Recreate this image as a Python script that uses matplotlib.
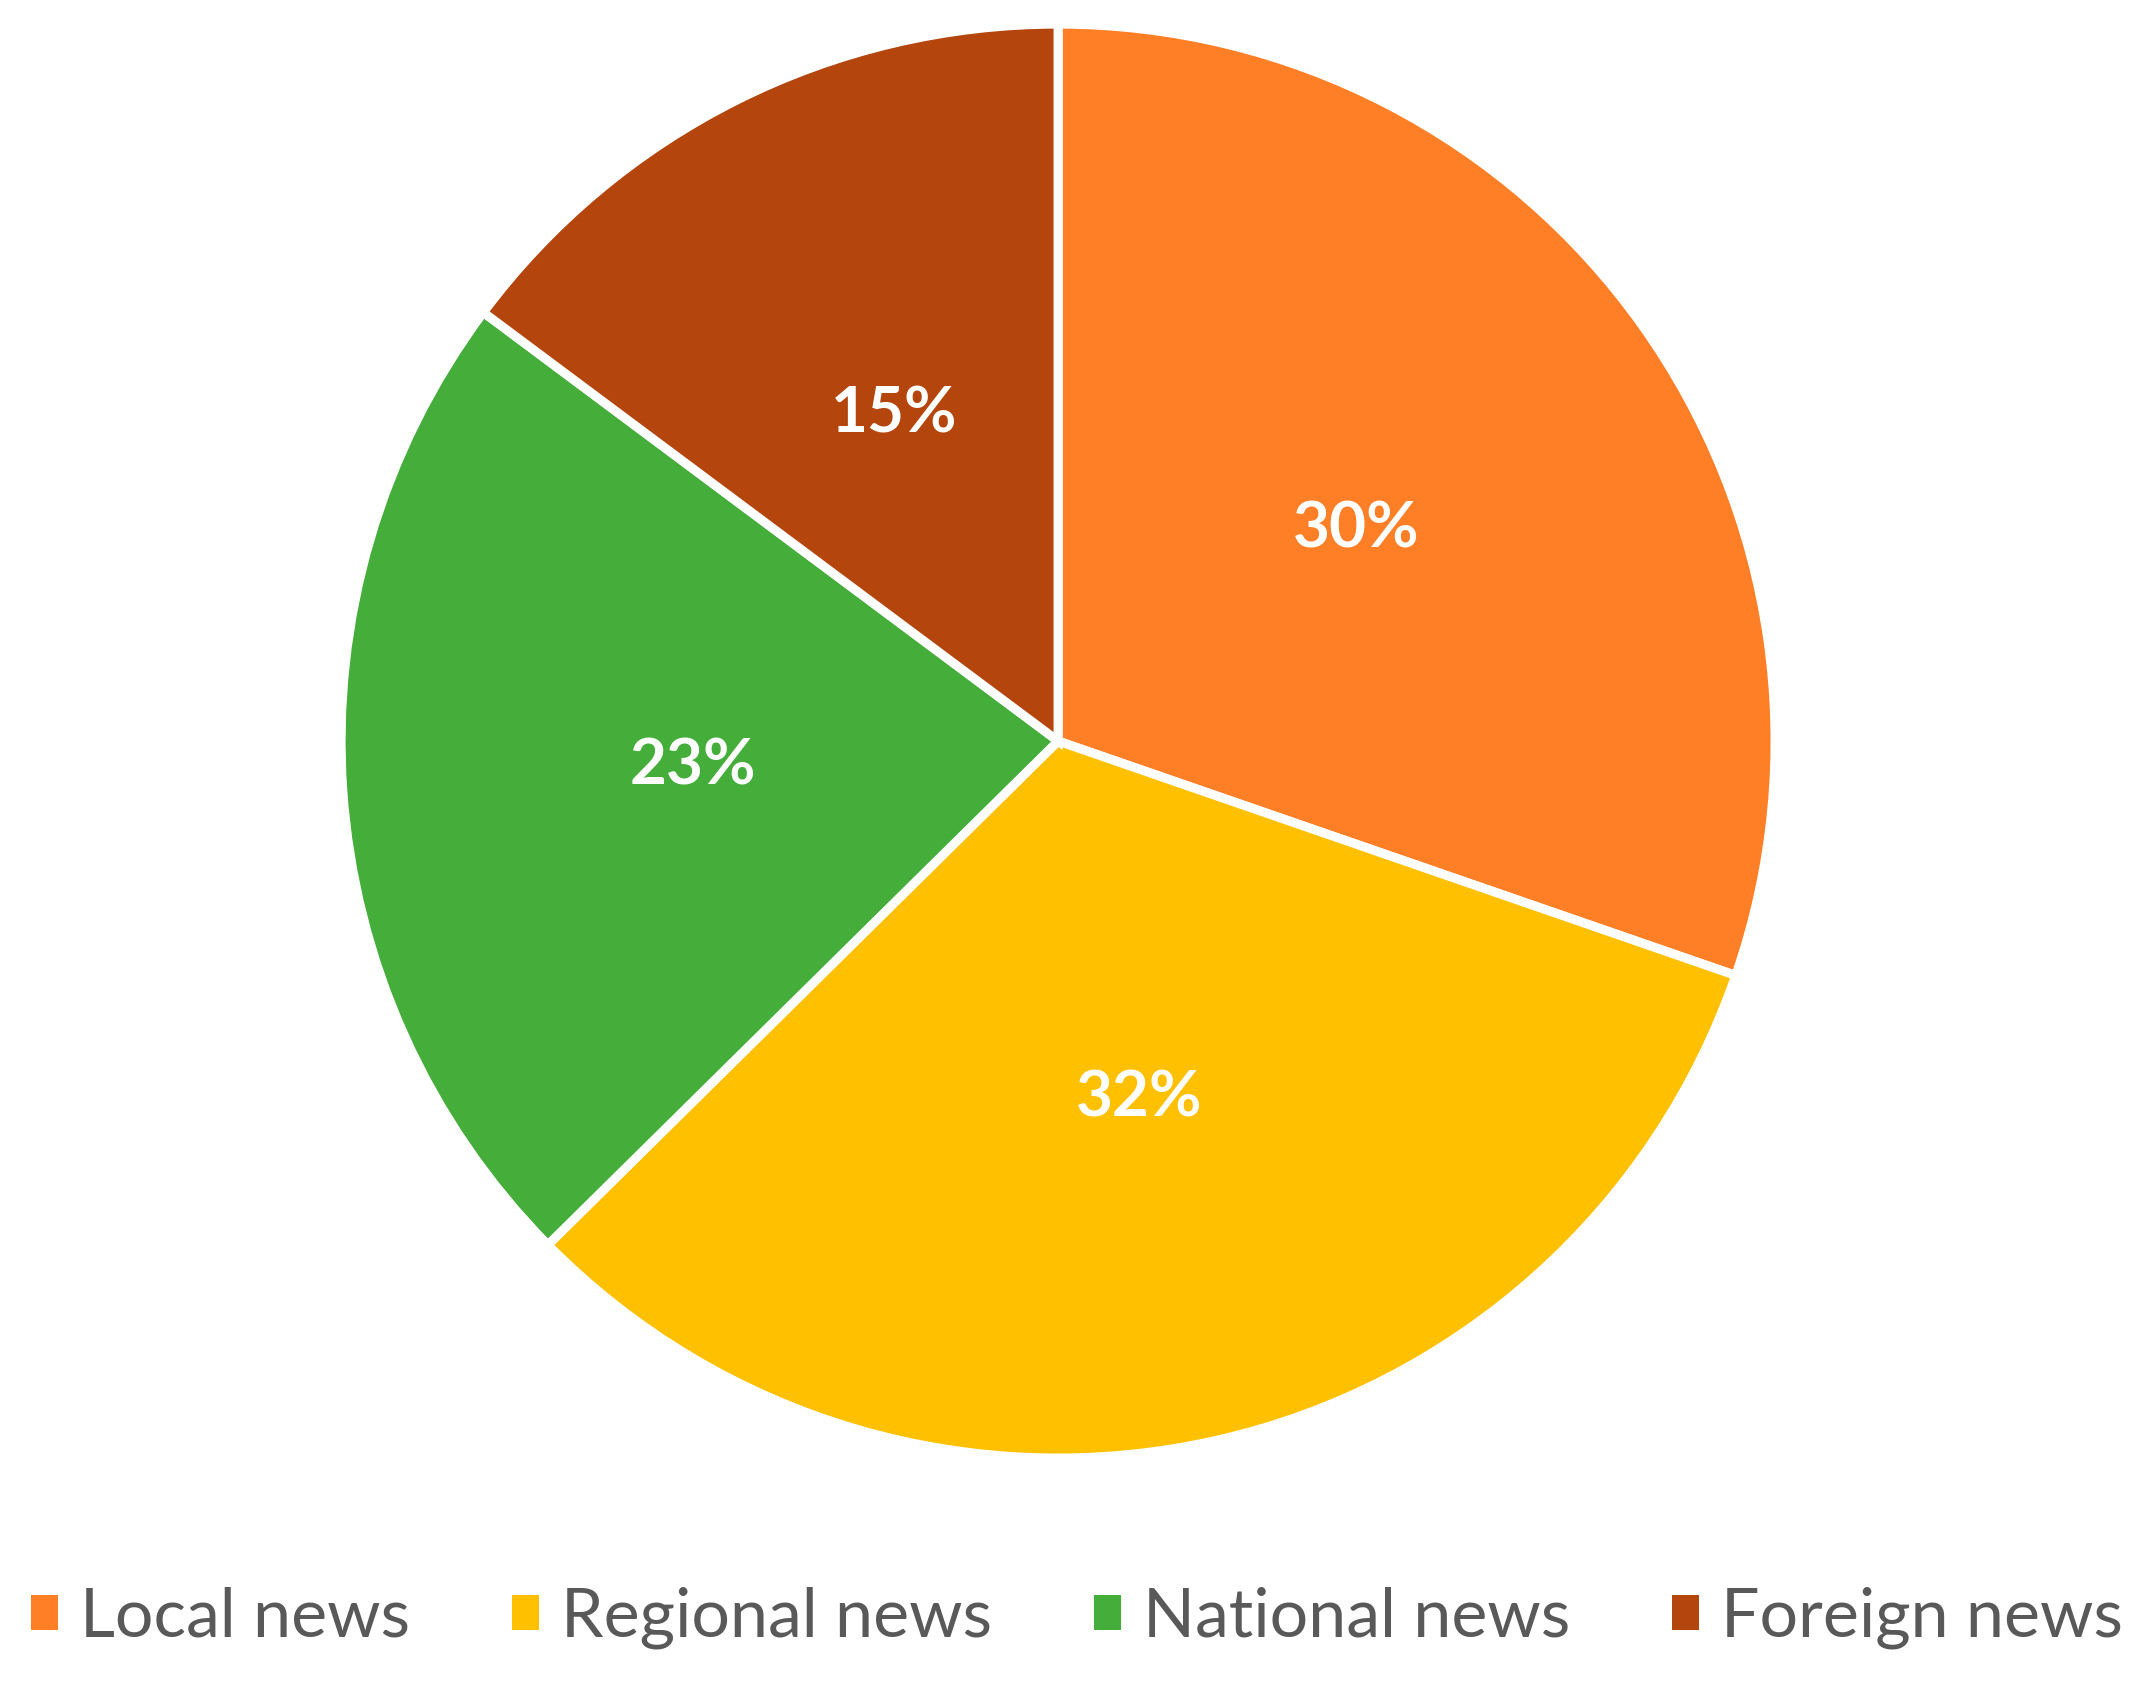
import matplotlib.pyplot as plt
from matplotlib.patches import Patch

# data (shares; labels show rounded values)
labels = ['Local news', 'Regional news', 'National news', 'Foreign news']
shares = [30.3, 32.3, 22.6, 14.8]
colors = ['#FF7F27', '#FFC000', '#45AE3A', '#B4450D']

plt.rcParams['font.family'] = ['Lato', 'DejaVu Sans']

fig = plt.figure(figsize=(21.41, 16.96), dpi=100)
ax = fig.add_axes([0.1593, 0.1403, 0.6698, 0.8455])

wedges, texts, autotexts = ax.pie(
    shares,
    colors=colors,
    startangle=90,
    counterclock=False,
    autopct='%.0f%%',
    pctdistance=0.51,
    wedgeprops=dict(edgecolor='white', linewidth=6.5),
    textprops=dict(color='white', fontsize=46, fontweight='bold'),
)
ax.set_xlim(-1.0, 1.0)
ax.set_ylim(-1.0, 1.0)
ax.set_aspect('equal')

handles = [Patch(facecolor=c, edgecolor='none') for c in colors]
fig.legend(
    handles, labels,
    loc='center', bbox_to_anchor=(0.503, 0.046),
    ncol=4, frameon=False,
    fontsize=49, labelcolor='#595959',
    handlelength=0.4, handleheight=0.4,
    handletextpad=0.32, columnspacing=1.5,
)

fig.savefig('out.png', dpi=100, facecolor='white')
